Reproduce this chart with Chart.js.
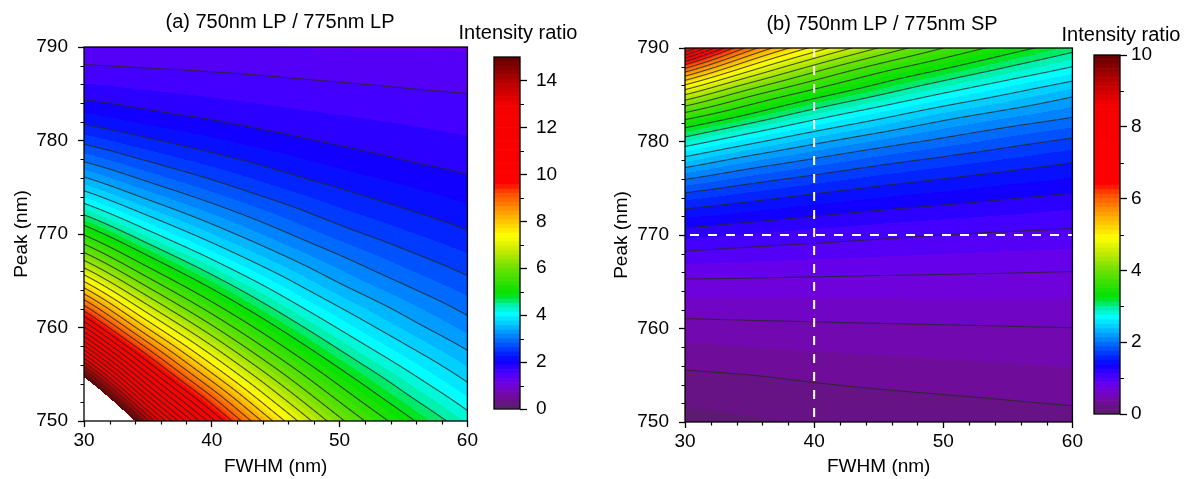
<!DOCTYPE html>
<html>
<head>
<meta charset="utf-8">
<title>Intensity ratio maps</title>
<script src="https://cdn.jsdelivr.net/npm/chart.js@4.4.1/dist/chart.umd.min.js"></script>
<style>
  html, body { margin: 0; padding: 0; background: #fff; }
  #wrap { position: relative; width: 1188px; height: 479px; overflow: hidden; }
  #wrap canvas { position: absolute; top: 0; }
</style>
</head>
<body>
<div id="wrap">
  <canvas id="mapA" width="480" height="479" style="left:0px"></canvas>
  <canvas id="barA" width="148" height="479" style="left:440px"></canvas>
  <canvas id="mapB" width="485" height="479" style="left:600px"></canvas>
  <canvas id="barB" width="138" height="479" style="left:1050px"></canvas>
</div>
<script>
// grid the ratio maps are sampled on
const fwhm = [30, 35, 40, 45, 50, 55, 60];
const peaks = [750, 752.5, 755, 757.5, 760, 762.5, 765, 767.5, 770, 772.5, 775, 777.5, 780, 782.5, 785, 787.5, 790];

// (a) 750nm LP / 775nm LP, one row per peak, one value per FWHM
const ratioLpLp = [
  [20.4, 13.97, 10.28, 7.78, 6.10, 5.03, 4.27],
  [17.3, 12.12, 9.06, 6.93, 5.52, 4.60, 3.95],
  [14.7, 10.53, 7.93, 6.18, 5.00, 4.22, 3.65],
  [12.45, 9.11, 6.95, 5.50, 4.52, 3.86, 3.38],
  [10.56, 7.82, 6.08, 4.90, 4.09, 3.53, 3.12],
  [8.92, 6.71, 5.32, 4.37, 3.70, 3.24, 2.89],
  [7.46, 5.75, 4.66, 3.90, 3.34, 2.96, 2.67],
  [6.23, 4.93, 4.08, 3.47, 3.03, 2.71, 2.47],
  [5.21, 4.23, 3.57, 3.09, 2.73, 2.48, 2.28],
  [4.36, 3.63, 3.13, 2.76, 2.47, 2.27, 2.11],
  [3.65, 3.11, 2.74, 2.45, 2.24, 2.08, 1.95],
  [3.05, 2.67, 2.40, 2.19, 2.02, 1.90, 1.82],
  [2.55, 2.29, 2.10, 1.95, 1.84, 1.77, 1.71],
  [2.13, 1.96, 1.85, 1.76, 1.70, 1.65, 1.60],
  [1.80, 1.72, 1.66, 1.61, 1.57, 1.53, 1.50],
  [1.56, 1.52, 1.49, 1.46, 1.43, 1.41, 1.40],
  [1.32, 1.32, 1.31, 1.31, 1.30, 1.30, 1.29]
];

// (b) 750nm LP / 775nm SP
const ratioLpSp = [
  [0.08, 0.11, 0.138, 0.161, 0.181, 0.199, 0.21],
  [0.155, 0.18, 0.202, 0.221, 0.238, 0.254, 0.27],
  [0.23, 0.249, 0.274, 0.297, 0.316, 0.333, 0.35],
  [0.33, 0.353, 0.371, 0.387, 0.40, 0.412, 0.42],
  [0.445, 0.458, 0.468, 0.477, 0.484, 0.491, 0.497],
  [0.58, 0.584, 0.588, 0.591, 0.594, 0.596, 0.60],
  [0.73, 0.725, 0.719, 0.713, 0.709, 0.705, 0.70],
  [0.93, 0.903, 0.882, 0.864, 0.848, 0.833, 0.82],
  [1.17, 1.115, 1.071, 1.033, 1.0, 0.977, 0.96],
  [1.46, 1.375, 1.299, 1.238, 1.192, 1.151, 1.11],
  [1.83, 1.684, 1.57, 1.476, 1.405, 1.343, 1.29],
  [2.31, 2.07, 1.899, 1.757, 1.651, 1.561, 1.48],
  [2.88, 2.56, 2.30, 2.103, 1.949, 1.819, 1.71],
  [3.55, 3.14, 2.79, 2.52, 2.29, 2.123, 1.99],
  [4.5, 3.81, 3.35, 3.01, 2.72, 2.487, 2.28],
  [5.8, 4.74, 4.03, 3.54, 3.20, 2.914, 2.67],
  [7.6, 5.90, 4.92, 4.24, 3.75, 3.38, 3.08]
];

// colour scale ranges and the dashed guides of panel (b)
const scaleMaxA = 15;
const scaleMaxB = 10;
const guideFwhm = 40;
const guidePeak = 770;

// rainbow palette, split into discrete fill bands (a line every second band)
const paletteStops = [
  [0.000, 90, 30, 105], [0.035, 115, 10, 160], [0.075, 110, 0, 230], [0.105, 70, 0, 255],
  [0.135, 10, 0, 255], [0.170, 0, 60, 255], [0.205, 0, 128, 255], [0.240, 0, 200, 255],
  [0.270, 0, 255, 255], [0.295, 0, 240, 170], [0.325, 0, 225, 0], [0.400, 110, 225, 0],
  [0.450, 200, 235, 0], [0.490, 255, 255, 0], [0.530, 255, 200, 0], [0.570, 255, 140, 0],
  [0.615, 255, 70, 0], [0.640, 255, 0, 0], [0.860, 245, 0, 0], [0.930, 180, 0, 0], [1.000, 95, 0, 0]
];
const bandCount = 80;

function palette(t) {
  for (let i = 1; i < paletteStops.length; i++) {
    const b = paletteStops[i];
    if (t <= b[0]) {
      const a = paletteStops[i - 1], f = (t - a[0]) / (b[0] - a[0]);
      return [1, 2, 3].map(k => Math.round(a[k] + (b[k] - a[k]) * f));
    }
  }
  return paletteStops[paletteStops.length - 1].slice(1);
}
const bandColors = Array.from({ length: bandCount }, (_, i) => palette((i + 0.5) / bandCount));

Chart.defaults.font.family = '"Liberation Sans", Arial, sans-serif';
Chart.defaults.color = '#000';

// smooth (Catmull-Rom, in log space) lookup into a row-per-peak table
function makeSampler(xs, ys, rows) {
  const logs = rows.map(r => r.map(Math.log));
  const nx = xs.length, ny = ys.length;
  const at = (j, i) => {
    if (i < 0) return 2 * at(j, 0) - at(j, 1);
    if (i > nx - 1) return 2 * at(j, nx - 1) - at(j, nx - 2);
    if (j < 0) return 2 * at(0, i) - at(1, i);
    if (j > ny - 1) return 2 * at(ny - 1, i) - at(ny - 2, i);
    return logs[j][i];
  };
  const locate = (arr, v) => {
    let i = 0;
    while (i < arr.length - 2 && v > arr[i + 1]) i++;
    return i + (v - arr[i]) / (arr[i + 1] - arr[i]);
  };
  const cr = (a, b, c, d, t) => b + 0.5 * t * (c - a + t * (2 * a - 5 * b + 4 * c - d + t * (3 * (b - c) + d - a)));
  return (fx, fy) => {
    const gx = locate(xs, fx), gy = locate(ys, fy);
    const i = Math.min(Math.floor(gx), nx - 2), j = Math.min(Math.floor(gy), ny - 2);
    const tx = gx - i, ty = gy - j;
    const col = [];
    for (let m = -1; m <= 2; m++) col.push(cr(at(j + m, i - 1), at(j + m, i), at(j + m, i + 1), at(j + m, i + 2), tx));
    return Math.exp(cr(col[0], col[1], col[2], col[3], ty));
  };
}

// filled contour bands plus thin contour lines, painted pixel by pixel through the chart scales
function contourLayer(rows, max) {
  const sample = makeSampler(fwhm, peaks, rows);
  const bandStep = max / bandCount, lineStep = 2 * bandStep, lineCount = bandCount / 2;
  return {
    id: 'contourLayer',
    beforeDatasetsDraw(chart) {
      const { ctx, chartArea: a, scales: { x, y } } = chart;
      const x0 = Math.round(a.left), y0 = Math.round(a.top);
      const w = Math.round(a.right) - x0, h = Math.round(a.bottom) - y0;
      const val = new Float64Array(w * h);
      for (let j = 0; j < h; j++) {
        const p = y.getValueForPixel(y0 + j + 0.5);
        for (let i = 0; i < w; i++) val[j * w + i] = sample(x.getValueForPixel(x0 + i + 0.5), p);
      }
      const img = ctx.createImageData(w, h), d = img.data;
      for (let j = 0; j < h; j++) {
        for (let i = 0; i < w; i++) {
          const k = j * w + i, v = val[k], o = 4 * k;
          d[o + 3] = 255;
          if (v > max) { d[o] = d[o + 1] = d[o + 2] = 255; continue; }
          const c = bandColors[Math.max(0, Math.min(bandCount - 1, Math.floor(v / bandStep)))];
          let r = c[0], g = c[1], b = c[2];
          const u = v / lineStep, n = Math.round(u);
          if (n > 0 && n < lineCount) {
            const il = i > 0 ? k - 1 : k, ir = i < w - 1 ? k + 1 : k;
            const ju = j > 0 ? k - w : k, jd = j < h - 1 ? k + w : k;
            const gx = (val[ir] - val[il]) / ((ir - il) || 1) / lineStep;
            const gy = (val[jd] - val[ju]) / (((jd - ju) / w) || 1) / lineStep;
            const dist = Math.abs(u - n) / (Math.hypot(gx, gy) || 1e-9);
            const cov = Math.max(0, Math.min(1, 1.05 - dist)) * 0.8;
            r += (38 - r) * cov; g += (38 - g) * cov; b += (38 - b) * cov;
          }
          d[o] = r; d[o + 1] = g; d[o + 2] = b;
        }
      }
      ctx.putImageData(img, x0, y0);
    }
  };
}

const frame = {
  id: 'frame',
  afterDraw(chart) {
    const { ctx, chartArea: a } = chart;
    ctx.save();
    ctx.strokeStyle = '#000';
    ctx.lineWidth = 1.3;
    ctx.strokeRect(a.left, a.top, a.right - a.left, a.bottom - a.top);
    ctx.restore();
  }
};

const steps = (from, to, by) => {
  const out = [];
  for (let v = from; v <= to + 1e-9; v += by) out.push(+v.toFixed(6));
  return out;
};

// short unlabelled ticks between the labelled ones
function minorTicks(spec) {
  return {
    id: 'minorTicks',
    afterDraw(chart) {
      const { ctx, chartArea: a, scales } = chart;
      ctx.save();
      ctx.strokeStyle = '#000';
      ctx.lineWidth = 1.2;
      ctx.beginPath();
      (spec.x || []).forEach(v => {
        const px = Math.round(scales.x.getPixelForValue(v)) + 0.5;
        ctx.moveTo(px, a.bottom); ctx.lineTo(px, a.bottom + spec.len);
      });
      (spec.y || []).forEach(v => {
        const py = Math.round(scales.y.getPixelForValue(v)) + 0.5;
        if (spec.right) { ctx.moveTo(a.right, py); ctx.lineTo(a.right + spec.len, py); }
        else { ctx.moveTo(a.left, py); ctx.lineTo(a.left - spec.len, py); }
      });
      ctx.stroke();
      ctx.restore();
    }
  };
}

function caption(items) {
  return {
    id: 'caption',
    afterDraw(chart) {
      const { ctx } = chart;
      ctx.save();
      ctx.fillStyle = '#000';
      ctx.textAlign = 'center';
      ctx.textBaseline = 'middle';
      items.forEach(it => {
        ctx.font = it.size + 'px "Liberation Sans", Arial, sans-serif';
        ctx.fillText(it.text, it.x, it.y);
      });
      ctx.restore();
    }
  };
}

function mapChart(id, cfg) {
  return new Chart(document.getElementById(id), {
    type: 'scatter',
    data: { datasets: cfg.datasets || [] },
    options: {
      responsive: false, animation: false, devicePixelRatio: 1, events: [],
      layout: { padding: { top: cfg.top, right: cfg.right, left: 0, bottom: 0 } },
      plugins: { legend: { display: false }, tooltip: { enabled: false } },
      scales: {
        x: {
          type: 'linear', min: 30, max: 60,
          ticks: { stepSize: 10, padding: 2, maxRotation: 0, font: { size: 19 } },
          grid: { drawOnChartArea: false, tickLength: 6, tickWidth: 1.3, tickColor: '#000' },
          border: { display: false },
          title: { display: true, text: 'FWHM (nm)', font: { size: 19 }, padding: { top: 0, bottom: 1 } },
          afterFit: s => { s.height = cfg.xHeight; }
        },
        y: {
          type: 'linear', min: 750, max: 790,
          ticks: { stepSize: 10, padding: 10, font: { size: 19 } },
          grid: { drawOnChartArea: false, tickLength: 6, tickWidth: 1.3, tickColor: '#000' },
          border: { display: false },
          title: { display: true, text: 'Peak (nm)', font: { size: 19 }, padding: { top: 10, bottom: 0 } },
          afterFit: s => { s.width = cfg.yWidth; }
        }
      }
    },
    plugins: [
      contourLayer(cfg.rows, cfg.max),
      minorTicks({ x: steps(30, 60, 2).filter(v => v % 10), y: steps(750, 790, 2).filter(v => v % 10), len: 3.5 }),
      frame,
      caption([cfg.title])
    ]
  });
}

function colorbarChart(id, cfg) {
  const step = cfg.max / bandCount;
  return new Chart(document.getElementById(id), {
    type: 'bar',
    data: {
      labels: [''],
      datasets: bandColors.map(c => ({ data: [step], backgroundColor: `rgb(${c[0]},${c[1]},${c[2]})`, borderWidth: 0 }))
    },
    options: {
      responsive: false, animation: false, devicePixelRatio: 1, events: [],
      layout: { padding: { left: cfg.left, top: cfg.top, bottom: cfg.bottom, right: 0 } },
      datasets: { bar: { barPercentage: 1, categoryPercentage: 1 } },
      plugins: { legend: { display: false }, tooltip: { enabled: false } },
      scales: {
        x: { display: false, stacked: true },
        y: {
          stacked: true, position: 'right', min: 0, max: cfg.max,
          ticks: { stepSize: 2, padding: cfg.pad, font: { size: 19 } },
          grid: { drawOnChartArea: false, tickLength: 7, tickWidth: 1.3, tickColor: '#000' },
          border: { display: false },
          afterBuildTicks: s => { s.ticks = s.ticks.filter(t => t.value % 2 === 0); },
          afterFit: s => { s.width = cfg.axisWidth; }
        }
      }
    },
    plugins: [
      minorTicks({ y: steps(1, cfg.max - 1, 2), len: 4, right: true }),
      frame,
      caption([{ text: 'Intensity ratio', x: cfg.titleX, y: cfg.titleY, size: 20 }])
    ]
  });
}

const guideLine = { borderColor: '#ffffff', borderWidth: 2, borderDash: [9, 9], pointRadius: 0, showLine: true, fill: false };

mapChart('mapA', {
  rows: ratioLpLp, max: scaleMaxA, top: 47, right: 9, xHeight: 58, yWidth: 84,
  title: { text: '(a) 750nm LP / 775nm LP', x: 280, y: 22, size: 20 }
});
colorbarChart('barA', { max: scaleMaxA, left: 54, top: 57, bottom: 70, axisWidth: 68, pad: 9, titleX: 78, titleY: 33 });

mapChart('mapB', {
  rows: ratioLpSp, max: scaleMaxB, top: 48, right: 9, xHeight: 57, yWidth: 85,
  title: { text: '(b) 750nm LP / 775nm SP', x: 282, y: 24, size: 20 },
  datasets: [
    Object.assign({ data: [{ x: guideFwhm, y: 790 }, { x: guideFwhm, y: 750 }] }, guideLine),
    Object.assign({ data: [{ x: 30, y: guidePeak }, { x: 60, y: guidePeak }], borderDashOffset: 13 }, guideLine)
  ]
});
colorbarChart('barB', { max: scaleMaxB, left: 44, top: 55, bottom: 65, axisWidth: 68, pad: 4, titleX: 71, titleY: 35 });
</script>
</body>
</html>
